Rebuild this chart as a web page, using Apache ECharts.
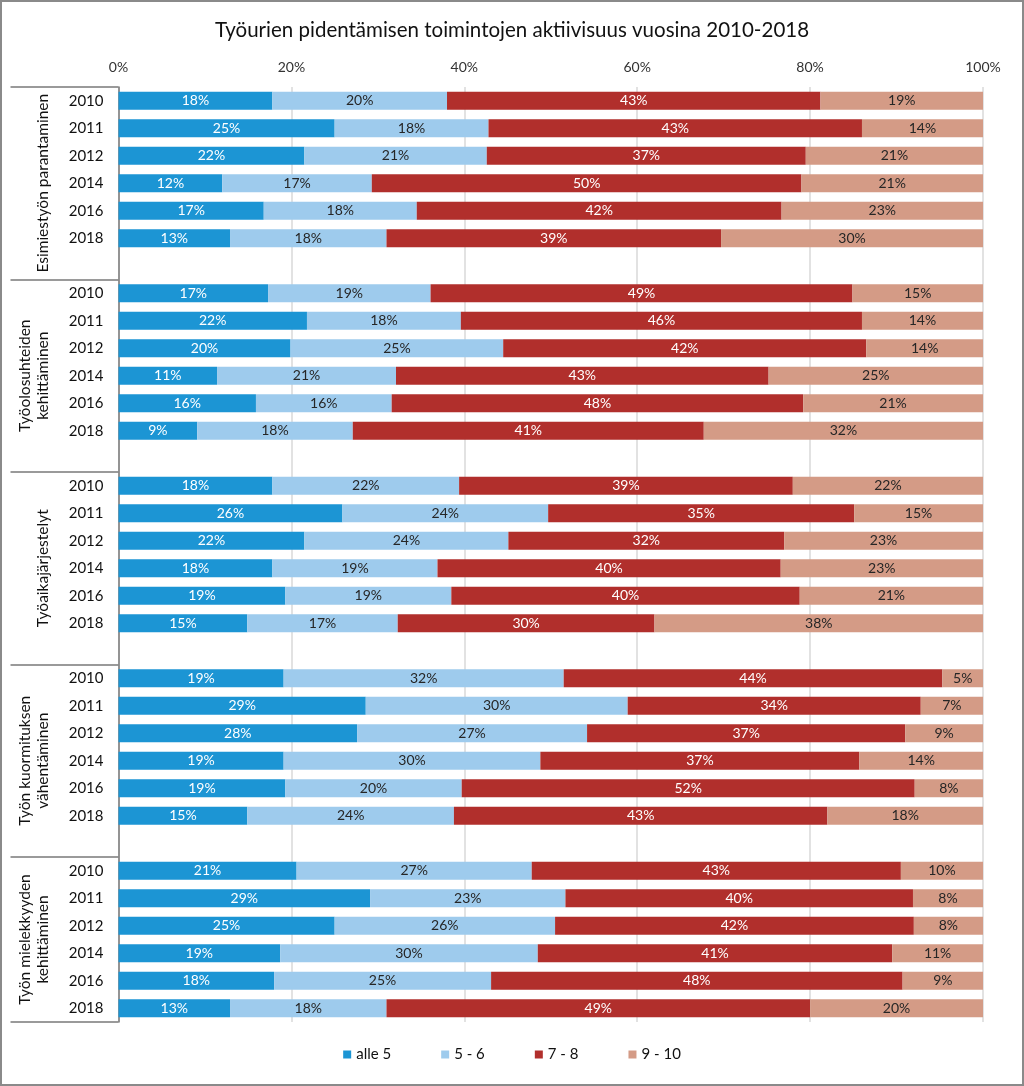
<!DOCTYPE html>
<html>
<head>
<meta charset="utf-8">
<script src="https://cdn.jsdelivr.net/npm/echarts@6/dist/echarts.min.js"></script>
<style>
html,body{margin:0;padding:0;background:#fff;}
#chart{width:1024px;height:1086px;}
</style>
</head>
<body>
<div id="chart"></div>
<script>
const titleText = 'Työurien pidentämisen toimintojen aktiivisuus vuosina 2010-2018';
const groups = ['Esimiestyön parantaminen', 'Työolosuhteiden\nkehittäminen', 'Työaikajärjestelyt', 'Työn kuormituksen\nvähentäminen', 'Työn mielekkyyden\nkehittäminen'];
const years = ['2010', '2011', '2012', '2014', '2016', '2018'];
const seriesNames = ['alle 5', '5 - 6', '7 - 8', '9 - 10'];
const xTicks = [0, 20, 40, 60, 80, 100];

// values per group (6 years each), in % of respondents
const alle5 = [
  17.8, 25.0, 21.5, 12.0, 16.8, 12.9,
  17.3, 21.8, 19.9, 11.4, 15.9, 9.1,
  17.8, 25.9, 21.5, 17.8, 19.3, 14.9,
  19.1, 28.6, 27.6, 19.1, 19.3, 14.9,
  20.6, 29.1, 25.0, 18.7, 18.0, 12.9
];
const v5_6 = [
  20.2, 17.8, 21.1, 17.3, 17.7, 18.1,
  18.8, 17.8, 24.6, 20.7, 15.7, 18.0,
  21.6, 23.8, 23.6, 19.1, 19.2, 17.4,
  32.4, 30.3, 26.6, 29.7, 20.4, 23.9,
  27.2, 22.6, 25.5, 29.8, 25.1, 18.1
];
const v7_8 = [
  43.2, 43.2, 36.9, 49.7, 42.2, 38.7,
  48.8, 46.4, 42.0, 43.1, 47.6, 40.6,
  38.6, 35.4, 31.9, 39.7, 40.3, 29.7,
  43.8, 33.9, 36.8, 36.9, 52.4, 43.2,
  42.7, 40.2, 41.5, 41.0, 47.6, 49.0
];
const v9_10 = [
  18.8, 14.0, 20.5, 21.0, 23.3, 30.3,
  15.1, 14.0, 13.5, 24.8, 20.8, 32.3,
  22.0, 14.9, 23.0, 23.4, 21.2, 38.0,
  4.7, 7.2, 9.0, 14.3, 7.9, 18.0,
  9.5, 8.1, 8.0, 10.5, 9.3, 20.0
];

const colors = ['#1c95d4', '#9ecbed', '#b12f2c', '#d49b86'];
const labelColors = ['#ffffff', '#262626', '#ffffff', '#262626'];
const FONT = 'Lato';

// Build category list with blank spacer rows between groups
const cats = [];
groups.forEach((g, gi) => {
  years.forEach(y => cats.push(y));
  if (gi < groups.length - 1) cats.push('');
});
function expand(arr) {
  const out = [];
  groups.forEach((g, gi) => {
    for (let k = 0; k < years.length; k++) out.push(arr[gi * years.length + k]);
    if (gi < groups.length - 1) out.push('-');
  });
  return out;
}
const allVals = [alle5, v5_6, v7_8, v9_10];
const nSlots = cats.length;
const sepPos = [];
const groupCenters = [];
let pos = 0;
groups.forEach((g, gi) => {
  sepPos.push(pos);
  const span = years.length + (gi < groups.length - 1 ? 1 : 0);
  groupCenters.push(pos + span / 2);
  pos += span;
});
sepPos.push(nSlots);

const chart = echarts.init(document.getElementById('chart'), null, {renderer: 'canvas'});
chart.setOption({
  backgroundColor: '#ffffff',
  animation: false,
  textStyle: {fontFamily: FONT},
  title: {
    text: titleText, left: 'center', top: 15,
    textStyle: {fontFamily: FONT, fontSize: 20.5, fontWeight: 'normal', color: '#111'}
  },
  legend: {
    bottom: 19, left: 'center', icon: 'rect', itemWidth: 8, itemHeight: 8, itemGap: 50,
    textStyle: {fontFamily: FONT, fontSize: 15, color: '#111'},
    data: seriesNames
  },
  graphic: [{
    type: 'rect', z: 100, silent: true,
    shape: {x: 1, y: 1, width: 1022, height: 1084},
    style: {fill: 'none', stroke: '#8a8a8a', lineWidth: 2}
  }],
  grid: {left: 118.5, right: 41, top: 87, bottom: 64, containLabel: false},
  xAxis: {
    type: 'value', position: 'top', min: 0, max: 100, interval: 20,
    axisLine: {show: false}, axisTick: {show: false},
    axisLabel: {formatter: '{value}%', fontFamily: FONT, fontSize: 14, color: '#333', margin: 13, customValues: xTicks},
    splitLine: {show: true, lineStyle: {color: '#d9d9d9', width: 1.5}}
  },
  yAxis: [{
    type: 'category', inverse: true, data: cats,
    axisLine: {show: true, lineStyle: {color: '#7a7a7a', width: 1.5}},
    axisTick: {show: false},
    axisLabel: {fontFamily: FONT, fontSize: 15, color: '#111', margin: 15, interval: 0}
  }, {
    type: 'value', inverse: true, min: 0, max: nSlots, position: 'left',
    axisLine: {show: false},
    splitLine: {show: false},
    axisTick: {show: true, length: 108, customValues: sepPos, lineStyle: {color: '#7a7a7a', width: 1.5}},
    axisLabel: {
      show: true, rotate: 90, margin: 67, customValues: groupCenters,
      fontFamily: FONT, fontSize: 15.5, color: '#111', lineHeight: 18,
      formatter: function (v) {
        const i = groupCenters.findIndex(c => Math.abs(c - v) < 1e-6);
        return i >= 0 ? groups[i] : '';
      }
    }
  }],
  series: seriesNames.map((name, si) => ({
    name: name, type: 'bar', stack: 'total', yAxisIndex: 0,
    barWidth: 18,
    itemStyle: {color: colors[si]},
    label: {
      show: true, position: 'inside', fontFamily: FONT, fontSize: 14, color: labelColors[si],
      formatter: p => Math.round(p.value) + '%'
    },
    data: expand(allVals[si])
  }))
});
</script>
</body>
</html>
